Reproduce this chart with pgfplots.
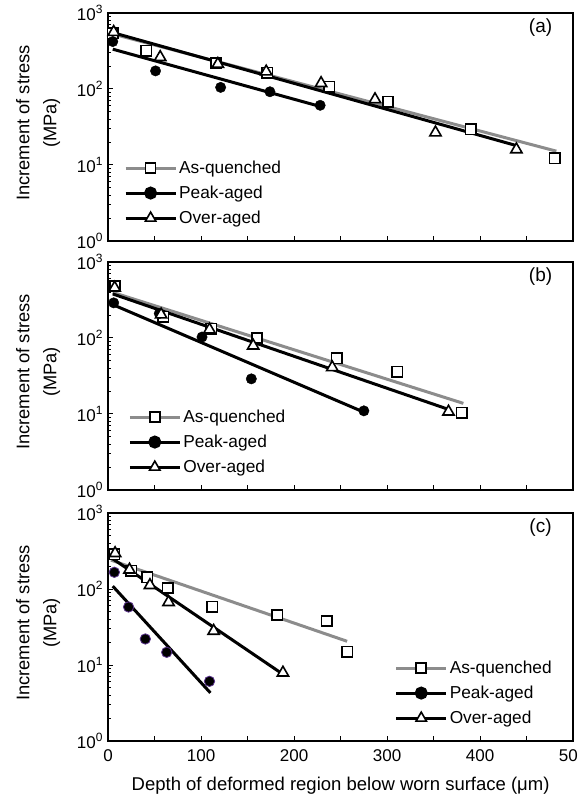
\documentclass[border=0pt]{standalone}
\usepackage{pgfplots}
\pgfplotsset{compat=1.18}
\usepackage{fontspec}
\setmainfont{Liberation Sans}
\begin{document}
\definecolor{fitgray}{RGB}{140,140,140}
\definecolor{rimpurple}{RGB}{90,50,140}
\newcommand{\tenpow}[1]{10\raisebox{6.5pt}{\fontsize{12}{12}\selectfont #1}}
\pgfplotsset{
  legend image code/.code={\draw[mark repeat=2,mark phase=2,#1]
      plot coordinates {(0pt,0pt) (25pt,0pt) (50pt,0pt)};},
  panel/.style={
    scale only axis, width=465pt, height=228pt, anchor=south west,
    xmin=0, xmax=500, ymin=1, ymax=1000,
    xtick={0,50,...,500}, xticklabels={},
    ytick={1,10,100,1000},
    yticklabels={\tenpow{0},\tenpow{1},\tenpow{2},\tenpow{3}},
    xtick pos=bottom, ytick pos=left, tick align=inside,
    major tick length=5pt, minor tick length=3pt,
    axis line style={line width=1.3pt}, tick style={line width=1pt, black},
    ticklabel style={font=\fontsize{17}{20}\selectfont},
    yticklabel style={xshift=-2pt},
    xticklabel style={yshift=-5pt},
    ylabel style={font=\fontsize{18.3}{27}\selectfont, align=center, yshift=10pt, xshift=4pt},
    ylabel={Increment of stress\\(MPa)},
    xlabel style={font=\fontsize{18.5}{22}\selectfont, yshift=-9pt},
    legend cell align=left,
    legend style={draw=none, fill=none, font=\fontsize{17.3}{20}\selectfont,
      row sep=7pt, inner sep=0pt},
    clip=false,
  },
  aq/.style={only marks, mark=square*, mark size=5.2pt, mark options={fill=white, draw=black, line width=1.6pt}},
  pa/.style={only marks, mark=*, mark size=5.2pt, mark options={fill=black, draw=black}},
  oa/.style={only marks, mark=triangle*, mark size=6.5pt, mark options={fill=white, draw=black, line width=1.6pt}},
  fitaq/.style={no marks, fitgray, line width=3pt},
  fitbk/.style={no marks, black, line width=3pt},
  legaq/.style={fitgray, line width=3pt, mark=square*, mark size=5pt, mark options={fill=white, draw=black, line width=1.6pt}},
  legpa/.style={black, line width=3pt, mark=*, mark size=5pt, mark options={fill=black}},
  legoa/.style={black, line width=3pt, mark=triangle*, mark size=6pt, mark options={fill=white, draw=black, line width=1.6pt}},
}
\begin{tikzpicture}
\useasboundingbox (0pt,0pt) rectangle (571pt,800pt);

% ---------- (a)
\begin{semilogyaxis}[panel, at={(97pt,559pt)},
  legend style={at={(0.034,0.06)}, anchor=south west}]
\addlegendimage{legaq}
\addlegendentry{As-quenched}
\addlegendimage{legpa}
\addlegendentry{Peak-aged}
\addlegendimage{legoa}
\addlegendentry{Over-aged}
\addplot[fitaq, forget plot] coordinates {(5,530) (482,15.2)};
\addplot[fitbk, forget plot] coordinates {(3,561) (439,18)};
\addplot[fitbk, forget plot] coordinates {(5,334) (227,59.4)};
\addplot[aq, forget plot] coordinates {(5,543) (41,320) (116,218) (171,164) (238,107) (301,68) (390,29.5) (480,12.3)};
\addplot[pa, forget plot] coordinates {(5,421) (51,173) (121,105) (174,92) (228,61)};
\addplot[oa, forget plot] coordinates {(6,561) (56,262) (118,213) (170,169) (229,119) (287,73) (352,26.7) (439,16)};
\node[font=\fontsize{19}{22}\selectfont] at (rel axis cs:0.93,0.935) {(a)};
\end{semilogyaxis}

% ---------- (b)
\begin{semilogyaxis}[panel, at={(97pt,310pt)},
  legend style={at={(0.043,0.06)}, anchor=south west}]
\addlegendimage{legaq}
\addlegendentry{As-quenched}
\addlegendimage{legpa}
\addlegendentry{Peak-aged}
\addlegendimage{legoa}
\addlegendentry{Over-aged}
\addplot[fitaq, forget plot] coordinates {(5,398) (382,13.8)};
\addplot[fitbk, forget plot] coordinates {(5,380) (366,11.5)};
\addplot[fitbk, forget plot] coordinates {(5,275) (274,10.7)};
\addplot[aq, forget plot] coordinates {(7.5,482) (59.5,190) (111,133) (160,100) (246,54) (311,36) (380,10.4)};
\addplot[pa, forget plot] coordinates {(6,290) (55,210) (101,103) (154,29) (275,11)};
\addplot[oa, forget plot] coordinates {(7,458) (57,203) (109,129) (156,79) (241,41) (366,10.7)};
\node[font=\fontsize{19}{22}\selectfont] at (rel axis cs:0.93,0.935) {(b)};
\end{semilogyaxis}

% ---------- (c)
\begin{semilogyaxis}[panel, at={(97pt,59pt)},
  xticklabels={0,,100,,200,,300,,400,,50\phantom{0}},
  xlabel={Depth of deformed region below worn surface (μm)},
  legend style={at={(0.616,0.06)}, anchor=south west}]
\addlegendimage{legaq}
\addlegendentry{As-quenched}
\addlegendimage{legpa}
\addlegendentry{Peak-aged}
\addlegendimage{legoa}
\addlegendentry{Over-aged}
\addplot[fitaq, forget plot] coordinates {(3,240) (257,20.5)};
\addplot[fitbk, forget plot] coordinates {(1.5,267) (188,7.55)};
\addplot[fitbk, forget plot] coordinates {(5,109) (110,4.3)};
\addplot[aq, forget plot] coordinates {(6.7,286) (25,174) (42,143) (64,103) (112,58.5) (182,45.6) (235,38) (257,15)};
\addplot[pa, mark options={fill=black, draw=rimpurple, line width=0.8pt}, forget plot] coordinates {(6.7,166) (22,58) (40,22) (63,14.7) (109,6.1)};
\addplot[oa, forget plot] coordinates {(7.5,295) (23,179) (45,112) (65,67) (113.5,28) (188,7.9)};
\node[font=\fontsize{19}{22}\selectfont] at (rel axis cs:0.93,0.935) {(c)};
\end{semilogyaxis}
\end{tikzpicture}
\end{document}
